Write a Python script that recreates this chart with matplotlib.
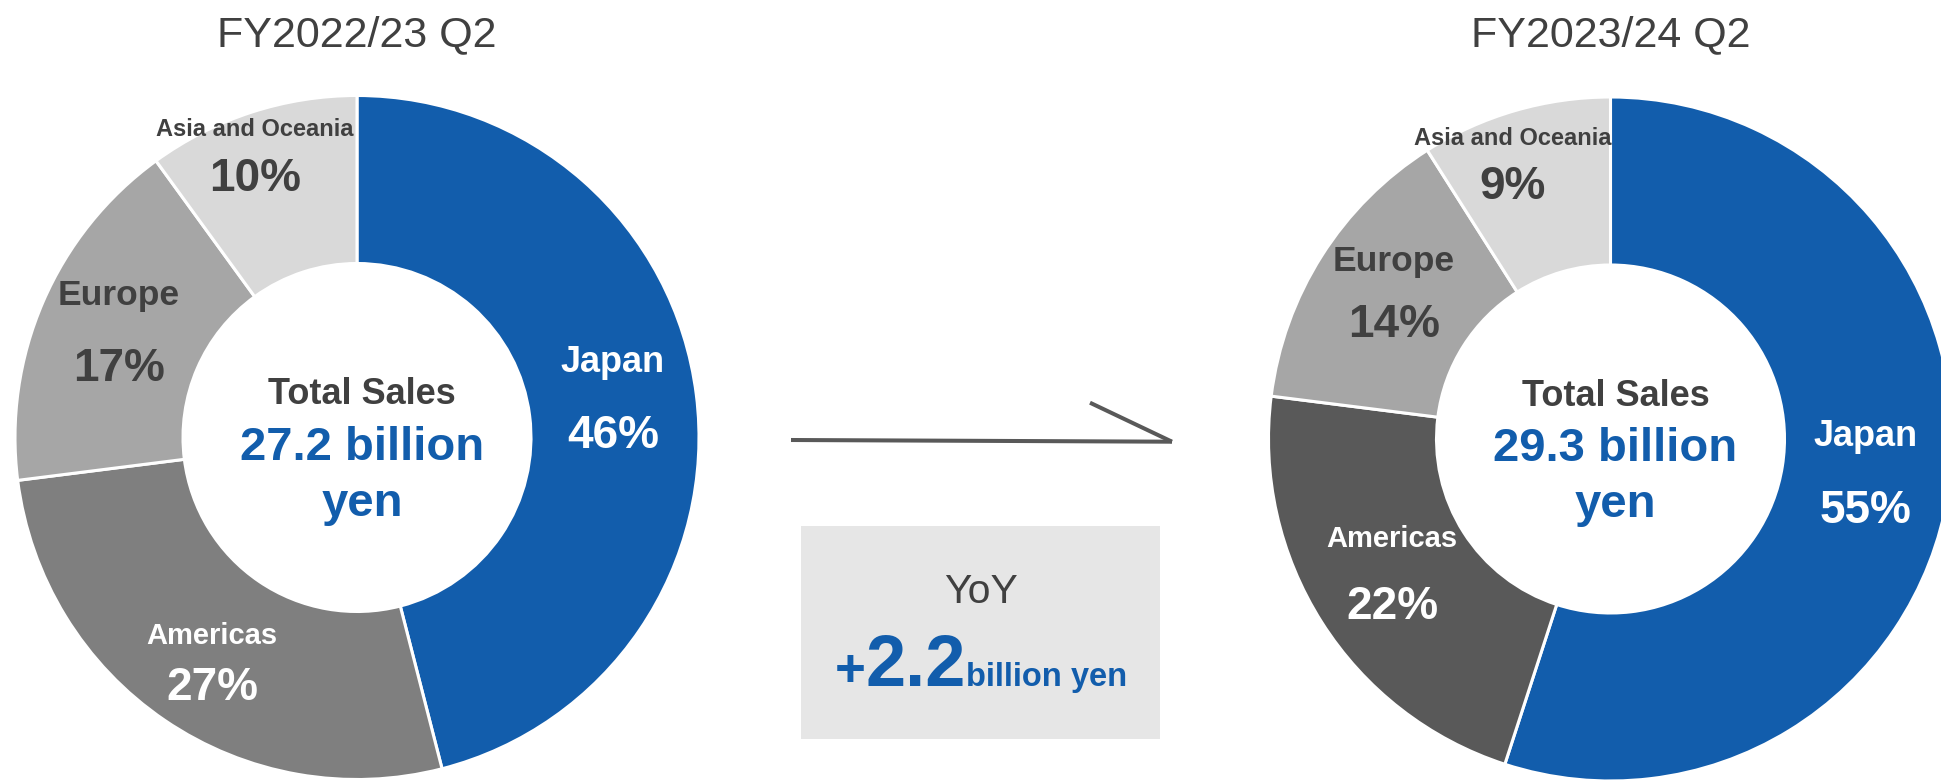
import matplotlib.pyplot as plt
from matplotlib.patches import Rectangle

plt.rcParams["font.family"] = ["Liberation Sans", "DejaVu Sans"]

W, H = 1941, 780  # canvas in pixels; layout below is in pixels from the top-left

regions = ["Japan", "Americas", "Europe", "Asia and Oceania"]
share_prev = [46, 27, 17, 10]
share_curr = [55, 22, 14, 9]
total_prev = 27.2
total_curr = 29.3
yoy_change = 2.2
period_prev = "FY2022/23 Q2"
period_curr = "FY2023/24 Q2"

BLUE = "#125DAC"
TEXT = "#404040"
colors_prev = [BLUE, "#7F7F7F", "#A6A6A6", "#D9D9D9"]
colors_curr = [BLUE, "#595959", "#A6A6A6", "#D9D9D9"]
label_colors = ["white", "white", TEXT, TEXT]
name_sizes = [26, 21, 25.5, 17]
PCT_SIZE = 33

# (x, name baseline, percent baseline) for each region label
label_pos_prev = [(613, 372, 448), (212, 644, 700), (119, 305, 381), (255, 136.5, 191)]
label_pos_curr = [(1866, 446.5, 523), (1392, 547, 619), (1394, 271, 337), (1513, 145, 199)]

R_OUT, R_IN = 342, 174


def Y(y):
    return H - y


fig = plt.figure(figsize=(W / 100, H / 100), dpi=100)
ax = fig.add_axes([0, 0, 1, 1])


def donut(cx, cy, shares, colors, label_pos, total, title):
    ax.pie(shares, colors=colors, startangle=90, counterclock=False,
           radius=R_OUT, center=(cx, Y(cy)), frame=False,
           wedgeprops=dict(width=R_OUT - R_IN, edgecolor="white", linewidth=2.2))
    for name, v, (x, yn, yp), c, fs in zip(regions, shares, label_pos, label_colors, name_sizes):
        ax.text(x, Y(yn), name, ha="center", va="baseline", fontsize=fs,
                fontweight="bold", color=c)
        ax.text(x, Y(yp), f"{v}%", ha="center", va="baseline", fontsize=PCT_SIZE,
                fontweight="bold", color=c)
    # total in the hole
    ax.text(cx + 5, Y(cy - 33), "Total Sales", ha="center", va="baseline",
            fontsize=26, fontweight="bold", color=TEXT)
    ax.text(cx + 5, Y(cy + 22), f"{total} billion", ha="center", va="baseline",
            fontsize=34, fontweight="bold", color=BLUE)
    ax.text(cx + 5, Y(cy + 78), "yen", ha="center", va="baseline",
            fontsize=34, fontweight="bold", color=BLUE)
    ax.text(cx, Y(46), title, ha="center", va="baseline", fontsize=31, color=TEXT)


donut(357, 437.5, share_prev, colors_prev, label_pos_prev, total_prev, period_prev)
donut(1610.5, 439, share_curr, colors_curr, label_pos_curr, total_curr, period_curr)

# open arrow between the two periods
ARROW = "#595959"
ax.plot([791, 1172], [Y(440), Y(441.7)], color=ARROW, lw=2.9, solid_capstyle="butt")
ax.plot([1090, 1172], [Y(402.7), Y(441.7)], color=ARROW, lw=2.9, solid_capstyle="butt")

# YoY box
ax.add_patch(Rectangle((801, Y(739)), 359, 213, facecolor="#E6E6E6", edgecolor="none"))
ax.text(981, Y(603), "YoY", ha="center", va="baseline", fontsize=29.5, color=TEXT)
parts = [("+", 38), (f"{yoy_change:.1f}", 52), ("billion yen", 23.5)]
pieces = [ax.text(0, Y(686), s, ha="left", va="baseline", fontsize=fs,
                  fontweight="bold", color=BLUE) for s, fs in parts]

ax.set_xlim(0, W)
ax.set_ylim(0, H)
ax.set_aspect("equal")
ax.axis("off")

fig.canvas.draw()
renderer = fig.canvas.get_renderer()
widths = [t.get_window_extent(renderer).width for t in pieces]
x = 981 - sum(widths) / 2
for t, w in zip(pieces, widths):
    t.set_x(x)
    x += w

fig.savefig("out.png", dpi=100, facecolor="white")
